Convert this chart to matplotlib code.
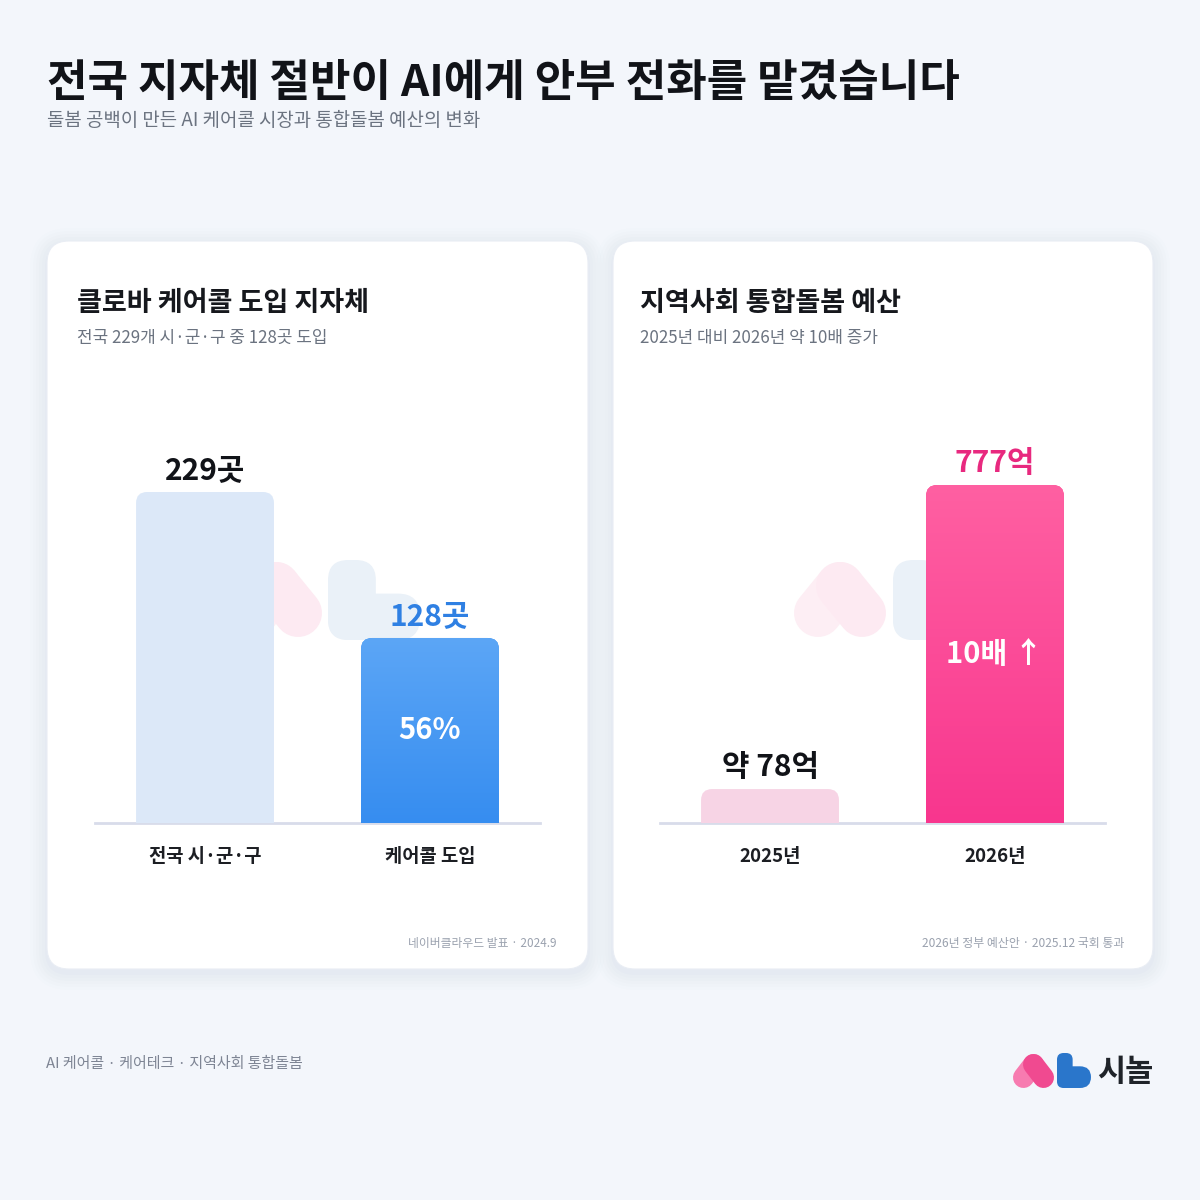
import matplotlib
matplotlib.use("Agg")
import matplotlib.pyplot as plt
import numpy as np
from matplotlib.patches import FancyBboxPatch
from matplotlib.lines import Line2D
from matplotlib.colors import LinearSegmentedColormap

plt.rcParams['font.family'] = ['Noto Sans CJK KR', 'DejaVu Sans']

# ---------------- data ----------------
title = "전국 지자체 절반이 AI에게 안부 전화를 맡겼습니다"
subtitle = "돌봄 공백이 만든 AI 케어콜 시장과 통합돌봄 예산의 변화"

left_title = "클로바 케어콜 도입 지자체"
left_sub = "전국 229개 시·군·구 중 128곳 도입"
left_cats = ["전국 시·군·구", "케어콜 도입"]
left_vals = [229, 128]
left_labels = ["229곳", "128곳"]
left_inner = "56%"
left_source = "네이버클라우드 발표 · 2024.9"

right_title = "지역사회 통합돌봄 예산"
right_sub = "2025년 대비 2026년 약 10배 증가"
right_cats = ["2025년", "2026년"]
right_vals = [78, 777]
right_labels = ["약 78억", "777억"]
right_inner = "10배 ↑"
right_source = "2026년 정부 예산안 · 2025.12 국회 통과"

footer = "AI 케어콜 · 케어테크 · 지역사회 통합돌봄"
brand = "시놀"

W = H = 1200
fig = plt.figure(figsize=(12, 12), dpi=100)
fig.patch.set_facecolor("#F3F6FB")

# full-figure pixel axes for decoration
bg = fig.add_axes([0, 0, 1, 1])
bg.set_xlim(0, W)
bg.set_ylim(H, 0)
bg.axis("off")
bg.set_zorder(0)


def card(x0, y0, x1, y1):
    r = 22
    for i, a in enumerate([0.018, 0.016, 0.014, 0.012, 0.010, 0.008]):
        g = 2 + i * 3
        p = FancyBboxPatch((x0 - g, y0 - g + 4), (x1 - x0) + 2 * g, (y1 - y0) + 2 * g,
                           boxstyle=f"round,pad=0,rounding_size={r + g}",
                           fc="#6A7BA0", ec="none", alpha=a, zorder=1)
        bg.add_patch(p)
    p = FancyBboxPatch((x0, y0), x1 - x0, y1 - y0,
                       boxstyle=f"round,pad=0,rounding_size={r}",
                       fc="white", ec="#E9EDF4", lw=0.8, zorder=2)
    bg.add_patch(p)


card(47, 241, 588, 969)
card(613, 241, 1153, 969)


def pink_mark(ax, x0, y0, w, h, c1, c2, lw_px, z):
    # rounded chevron ("heart") ; x0,y0 top-left in pixel coords
    r = lw_px / 2
    pts_l = [(x0 + r, y0 + h - r), (x0 + w / 2, y0 + r)]
    pts_r = [(x0 + w / 2, y0 + r), (x0 + w - r, y0 + h - r)]
    lw = lw_px * 72 / 100
    ax.add_line(Line2D([p[0] for p in pts_l], [p[1] for p in pts_l], lw=lw, color=c1,
                       solid_capstyle="round", zorder=z))
    ax.add_line(Line2D([p[0] for p in pts_r], [p[1] for p in pts_r], lw=lw, color=c2,
                       solid_capstyle="round", zorder=z))


def blue_mark(ax, x0, y0, w, h, c, z, rr, stem_frac=0.52, low_frac=0.58):
    stem_w = w * stem_frac
    ax.add_patch(FancyBboxPatch((x0, y0), stem_w, h,
                                boxstyle=f"round,pad=0,rounding_size={stem_w * 0.42}",
                                fc=c, ec="none", zorder=z))
    ax.add_patch(FancyBboxPatch((x0, y0 + h * (1 - low_frac)), w, h * low_frac,
                                boxstyle=f"round,pad=0,rounding_size={rr}",
                                fc=c, ec="none", zorder=z))


# watermarks
pink_mark(bg, 230, 562, 92, 75, "#FDEEF4", "#FDEAF2", 48, 3)
blue_mark(bg, 328, 560, 92, 80, "#EAF1F8", 3, 22)
pink_mark(bg, 794, 562, 92, 75, "#FDEEF4", "#FDEAF2", 48, 3)
blue_mark(bg, 893, 560, 92, 80, "#EAF1F8", 3, 22)

# logo
pink_mark(bg, 1013, 1054, 41, 34, "#F77BB0", "#F04A90", 21, 5)
blue_mark(bg, 1057, 1053, 34, 35, "#2A76CB", 5, 11, stem_frac=0.46, low_frac=0.62)
bg.text(1097, 1072, brand, fontsize=22, fontweight="bold", color="#1F2329",
        ha="left", va="center", zorder=6)

# headings
fig.text(47 / W, 1 - 83 / H, title, fontsize=31.7, fontweight="bold", color="#111318",
         ha="left", va="center")
fig.text(47 / W, 1 - 120 / H, subtitle, fontsize=13.6, color="#6B7380",
         ha="left", va="center")
fig.text(46 / W, 1 - 1064 / H, footer, fontsize=10.8, color="#7E8594",
         ha="left", va="center")

for (tx, tt, st) in [(77, left_title, left_sub), (640, right_title, right_sub)]:
    fig.text(tx / W, 1 - 303 / H, tt, fontsize=19.5, fontweight="bold", color="#16181D",
             ha="left", va="center")
    fig.text(tx / W, 1 - 338 / H, st, fontsize=12.2, color="#6B7380",
             ha="left", va="center")

fig.text(557 / W, 1 - 943 / H, left_source, fontsize=8.5, color="#9AA1AE",
         ha="right", va="center")
fig.text(1124 / W, 1 - 943 / H, right_source, fontsize=8.6, color="#9AA1AE",
         ha="right", va="center")


def bar_chart(x_left, x_right, cats, vals, labels, inner, colors, label_colors,
              px_top_val, top_colors, bot_colors):
    base_y = 823
    top_y = 400
    ax = fig.add_axes([x_left / W, 1 - base_y / H, (x_right - x_left) / W, (base_y - top_y) / H])
    ax.set_zorder(4)
    ax.patch.set_alpha(0)
    px_h = base_y - top_y
    px_w = x_right - x_left
    ymax = max(vals) * px_h / px_top_val
    ax.set_xlim(-0.489, 1.489)
    ax.set_ylim(0, ymax)
    for s in ax.spines.values():
        s.set_visible(False)
    ax.set_yticks([])
    xs = np.arange(len(cats))
    bars = ax.bar(xs, vals, width=0.613, color="none", zorder=3)
    ax.set_xticks(xs, cats)
    ax.tick_params(axis="x", length=0, pad=17.5)
    for t in ax.get_xticklabels():
        t.set_fontsize(13.5)
        t.set_fontweight("bold")
        t.set_color("#1C1E23")
    ax.axhline(0, color="#D8DCEA", lw=2, zorder=2, clip_on=False,
               xmin=0, xmax=1)
    xunit = (ax.get_xlim()[1] - ax.get_xlim()[0]) / px_w
    yunit = ymax / px_h
    aspect = yunit / xunit
    rpx = 11
    for i, b in enumerate(bars):
        x0, w, h = b.get_x(), b.get_width(), b.get_height()
        r = rpx * xunit
        patch = FancyBboxPatch((x0, -rpx * yunit * 2), w, h + rpx * yunit * 2,
                               boxstyle=f"round,pad=0,rounding_size={r}",
                               mutation_aspect=aspect, fc=colors[i], ec="none", zorder=3)
        ax.add_patch(patch)
        if top_colors[i] is not None:
            cmap = LinearSegmentedColormap.from_list("g", [bot_colors[i], top_colors[i]])
            grad = np.linspace(0, 1, 256).reshape(-1, 1)
            im = ax.imshow(grad, cmap=cmap, origin="lower", aspect="auto",
                           extent=(x0, x0 + w, 0, h), zorder=3.5)
            im.set_clip_path(patch)
        ax.annotate(labels[i], (xs[i], h), xytext=(0, 5), textcoords="offset points",
                    ha="center", va="bottom", fontsize=21.5, fontweight="bold",
                    color=label_colors[i], zorder=5)
    k = len(vals) - 1
    ax.text(xs[k], vals[k] / 2, inner, ha="center", va="center", fontsize=21,
            fontweight="bold", color="white", zorder=6)
    return ax


bar_chart(95, 540, left_cats, left_vals, left_labels, left_inner,
          ["#DCE8F8", "#4A9BF2"], ["#111318", "#2F80E3"], 331,
          [None, "#5CA6F6"], [None, "#368DF0"])
bar_chart(660, 1105, right_cats, right_vals, right_labels, right_inner,
          ["#F7D4E5", "#FB4E98"], ["#111318", "#E8297F"], 338,
          [None, "#FF60A2"], [None, "#F8368E"])

fig.savefig("out.png", dpi=100, facecolor=fig.get_facecolor())
